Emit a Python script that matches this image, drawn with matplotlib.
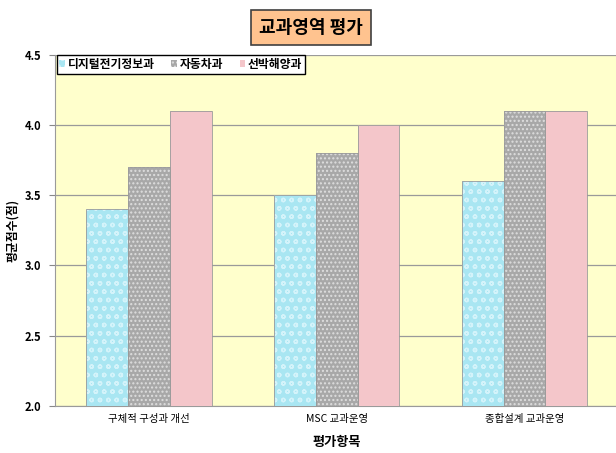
import numpy as np
import matplotlib.pyplot as plt

plt.rcParams['font.family'] = ['Noto Sans CJK KR', 'DejaVu Sans']

# evaluation items and average scores per department
items = ['구체적 구성과 개선', 'MSC 교과운영', '종합설계 교과운영']
depts = ['디지털전기정보과', '자동차과', '선박해양과']
scores_digital = [3.4, 3.5, 3.6]
scores_auto = [3.7, 3.8, 4.1]
scores_marine = [4.1, 4.0, 4.1]
yticks = [2.0, 2.5, 3.0, 3.5, 4.0, 4.5]

series = [scores_digital, scores_auto, scores_marine]
faces = ['#a9e6f2', '#a8a8a8', '#f4c6ca']
hatch_cols = ['#d4f3fa', '#dedede', '#f9dfe1']
hatches = ['oo', '....', '']

fig = plt.figure(figsize=(6.16, 4.53), dpi=100)
ax = fig.add_axes([0.089, 0.104, 0.915, 0.775])
ax.set_facecolor('#ffffcc')

x = np.arange(len(items))
w = 0.223
for k, vals in enumerate(series):
    pos = x + (k - 1) * w
    ax.bar(pos, vals, width=w, color=faces[k], edgecolor=hatch_cols[k],
           hatch=hatches[k], linewidth=0, label=depts[k], zorder=3)
    # thin darker outline to mimic the bevel
    ax.bar(pos, vals, width=w, color='none', edgecolor='#9a9a9a',
           linewidth=0.6, zorder=4)

ax.set_ylim(2.0, 4.5)
ax.set_xlim(-0.5, 2.5)
ax.set_yticks(yticks)
ax.set_yticklabels([f'{v:.1f}' for v in yticks], fontsize=8, fontweight='bold')
ax.set_xticks(x)
ax.set_xticklabels(items, fontsize=7.5)
ax.tick_params(axis='x', length=0, pad=6)
ax.tick_params(axis='y', length=4, color='#888888', pad=6)
ax.grid(axis='y', color='#9a9a9a', linewidth=0.9, zorder=0)
for s in ['top', 'right']:
    ax.spines[s].set_visible(False)
ax.spines['left'].set_color('#9a9a9a')
ax.spines['bottom'].set_color('#9a9a9a')

ax.set_ylabel('평균점수(점)', fontsize=8.5, fontweight='bold', labelpad=4)
ax.set_xlabel('평가항목', fontsize=9.5, fontweight='bold', labelpad=8)

leg = ax.legend(loc='upper left', ncol=3, fontsize=8.5, frameon=True,
                fancybox=False, edgecolor='black', framealpha=1,
                handlelength=0.5, handleheight=0.5, handletextpad=0.2,
                columnspacing=1.4, borderpad=0.25,
                bbox_to_anchor=(0.003, 1.0), borderaxespad=0)
for t in leg.get_texts():
    t.set_fontweight('bold')

fig.text(0.505, 0.94, '교과영역 평가', ha='center', va='center',
         fontsize=13, fontweight='bold',
         bbox=dict(boxstyle='square,pad=0.45', facecolor='#ffc38f',
                   edgecolor='#404040', linewidth=1.2))

fig.savefig('out.png', dpi=100)
